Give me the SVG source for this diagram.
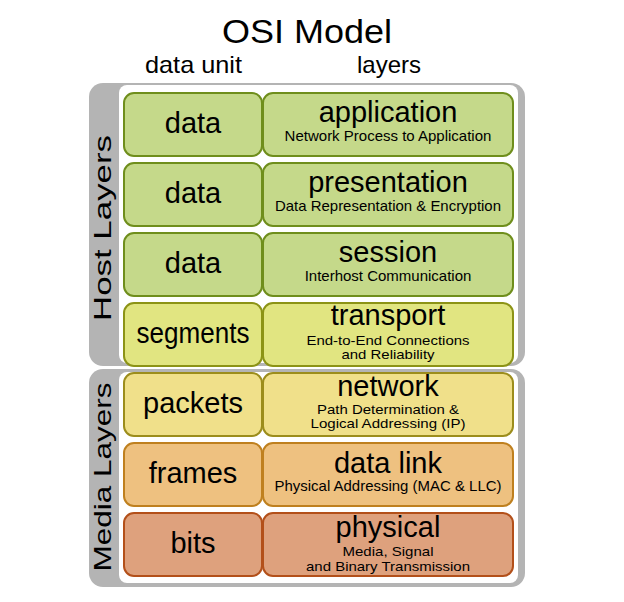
<svg xmlns="http://www.w3.org/2000/svg" width="624" height="602" viewBox="0 0 624 602">
<style>
text{font-family:"Liberation Sans",Arial,sans-serif;fill:#000;text-anchor:middle}
.hdr{font-size:24px}
.unit{font-size:29px}
.ttl{font-size:29px}
.sub{font-size:15px}
.sub2{font-size:13.5px}
.side{font-size:24px}
.panel{fill:#b4b4b4}
.inner{fill:#fff}
.box{stroke-width:2}
.g1{fill:#c5d98a;stroke:#6f8e1c}
.g2{fill:#e1e581;stroke:#8c9316}
.g3{fill:#f0e08a;stroke:#9c8d1c}
.g4{fill:#eec180;stroke:#bf801f}
.g5{fill:#dea17d;stroke:#b3501a}
</style>
<rect width="624" height="602" fill="#fff"/>
<g id="title">
<text x="307" y="43" style="font-size:34px" textLength="170" lengthAdjust="spacingAndGlyphs">OSI Model</text>
<text class="hdr" x="193.5" y="73" textLength="97" lengthAdjust="spacingAndGlyphs">data unit</text>
<text class="hdr" x="389" y="73">layers</text>
</g>
<g id="host-panel">
<rect class="panel" x="89" y="83" width="436" height="283" rx="14"/>
<rect class="inner" x="119" y="85" width="399" height="278" rx="8"/>
<text class="side" transform="translate(111,228) rotate(-90)" textLength="186" lengthAdjust="spacingAndGlyphs">Host Layers</text>
</g>
<g id="media-panel">
<rect class="panel" x="89" y="369" width="436" height="218" rx="14"/>
<rect class="inner" x="119" y="372" width="399" height="211" rx="8"/>
<text class="side" transform="translate(111,477) rotate(-90)" textLength="189" lengthAdjust="spacingAndGlyphs">Media Layers</text>
</g>
<g id="connectors"></g>
<g id="unit-application">
<rect class="box g1" x="124" y="93" width="138" height="63" rx="10"/>
<text class="unit" x="193" y="133">data</text>
</g>
<g id="layer-application">
<rect class="box g1" x="263" y="93" width="250" height="63" rx="10"/>
<text class="ttl" x="388" y="122">application</text>
<text class="sub" x="388" y="141">Network Process to Application</text>
</g>
<g id="unit-presentation">
<rect class="box g1" x="124" y="163" width="138" height="63" rx="10"/>
<text class="unit" x="193" y="203">data</text>
</g>
<g id="layer-presentation">
<rect class="box g1" x="263" y="163" width="250" height="63" rx="10"/>
<text class="ttl" x="388" y="192">presentation</text>
<text class="sub" x="388" y="211" textLength="226" lengthAdjust="spacingAndGlyphs">Data Representation &amp; Encryption</text>
</g>
<g id="unit-session">
<rect class="box g1" x="124" y="233" width="138" height="63" rx="10"/>
<text class="unit" x="193" y="273">data</text>
</g>
<g id="layer-session">
<rect class="box g1" x="263" y="233" width="250" height="63" rx="10"/>
<text class="ttl" x="388" y="262">session</text>
<text class="sub" x="388" y="281">Interhost Communication</text>
</g>
<g id="unit-transport">
<rect class="box g2" x="124" y="303" width="138" height="63" rx="10"/>
<text class="unit" x="193" y="343" textLength="113" lengthAdjust="spacingAndGlyphs">segments</text>
</g>
<g id="layer-transport">
<rect class="box g2" x="263" y="303" width="250" height="63" rx="10"/>
<text class="ttl" x="388" y="325">transport</text>
<text class="sub2" x="388" y="345" textLength="163" lengthAdjust="spacingAndGlyphs">End-to-End Connections</text>
<text class="sub2" x="388" y="359" textLength="93" lengthAdjust="spacingAndGlyphs">and Reliability</text>
</g>
<g id="unit-network">
<rect class="box g3" x="124" y="373" width="138" height="63" rx="10"/>
<text class="unit" x="193" y="413">packets</text>
</g>
<g id="layer-network">
<rect class="box g3" x="263" y="373" width="250" height="63" rx="10"/>
<text class="ttl" x="388" y="396">network</text>
<text class="sub2" x="388" y="414" textLength="142" lengthAdjust="spacingAndGlyphs">Path Determination &amp;</text>
<text class="sub2" x="388" y="428" textLength="155" lengthAdjust="spacingAndGlyphs">Logical Addressing (IP)</text>
</g>
<g id="unit-datalink">
<rect class="box g4" x="124" y="443" width="138" height="63" rx="10"/>
<text class="unit" x="193" y="483">frames</text>
</g>
<g id="layer-datalink">
<rect class="box g4" x="263" y="443" width="250" height="63" rx="10"/>
<text class="ttl" x="388" y="473">data link</text>
<text class="sub" x="388" y="491" textLength="227" lengthAdjust="spacingAndGlyphs">Physical Addressing (MAC &amp; LLC)</text>
</g>
<g id="unit-physical">
<rect class="box g5" x="124" y="513" width="138" height="63" rx="10"/>
<text class="unit" x="193" y="553">bits</text>
</g>
<g id="layer-physical">
<rect class="box g5" x="263" y="513" width="250" height="63" rx="10"/>
<text class="ttl" x="388" y="537">physical</text>
<text class="sub2" x="388" y="556" textLength="91" lengthAdjust="spacingAndGlyphs">Media, Signal</text>
<text class="sub2" x="388" y="571" textLength="164" lengthAdjust="spacingAndGlyphs">and Binary Transmission</text>
</g>
</svg>
